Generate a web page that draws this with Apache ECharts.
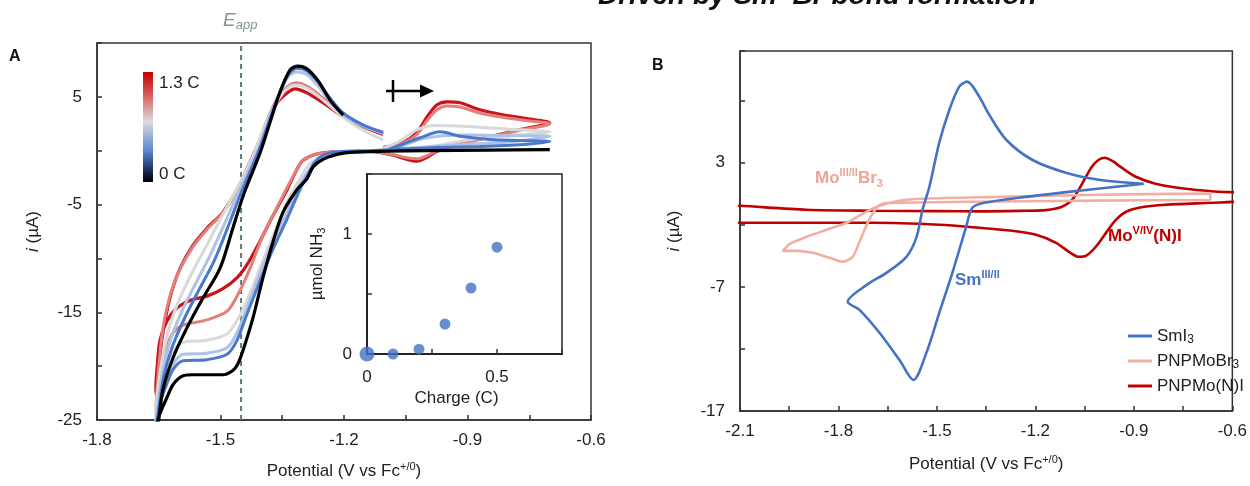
<!DOCTYPE html>
<html><head><meta charset="utf-8">
<script src="https://cdn.jsdelivr.net/npm/echarts@6/dist/echarts.min.js"></script>
<style>html,body{margin:0;padding:0;background:#fff}#c{width:1250px;height:486px}</style>
</head><body><div id="c"></div>
<script>
// ---------- Panel A: CV traces [potential V, current µA] ----------
const cvA_0C = [[-0.70,0.10],[-0.85,0.05],[-1.00,0.00],[-1.10,-0.05],[-1.185,-0.15],[-1.217,-0.34],[-1.251,-0.80],[-1.275,-1.50],[-1.290,-2.60],[-1.314,-3.60],[-1.348,-5.70],[-1.372,-8.40],[-1.397,-11.80],[-1.421,-15.50],[-1.445,-18.50],[-1.458,-19.80],[-1.470,-20.40],[-1.494,-20.80],[-1.533,-20.80],[-1.567,-20.80],[-1.591,-20.90],[-1.615,-21.70],[-1.630,-22.90],[-1.647,-24.40],[-1.656,-25.60],[-1.660,-26.50],
  [-1.652,-25.50],[-1.640,-22.20],[-1.615,-19.20],[-1.581,-16.40],[-1.543,-13.70],[-1.501,-10.90],[-1.470,-7.20],[-1.445,-4.20],[-1.404,-0.20],[-1.380,2.60],[-1.356,5.40],[-1.331,7.50],[-1.312,7.85],[-1.290,7.60],[-1.263,6.50],[-1.234,4.70],[-1.202,3.30]];
const cvA_blue = [[-1.105,-0.10],[-1.057,0.60],[-1.015,1.20],[-0.967,1.75],[-0.918,1.35],[-0.845,1.05],[-0.773,0.95],[-0.700,0.85],
  [-0.773,0.55],[-0.870,0.40],[-0.970,0.30],[-1.060,0.15],[-1.137,0.00],[-1.217,-0.10],[-1.250,-0.40],[-1.272,-1.10],[-1.290,-2.40],[-1.307,-3.60],[-1.338,-6.30],[-1.372,-9.10],[-1.404,-12.10],[-1.436,-15.20],[-1.460,-17.60],[-1.484,-18.90],[-1.533,-19.40],[-1.591,-19.50],[-1.615,-20.30],[-1.630,-21.60],[-1.645,-23.20],[-1.655,-25.20],[-1.659,-26.20],
  [-1.650,-24.00],[-1.638,-21.00],[-1.618,-18.30],[-1.588,-15.60],[-1.552,-12.90],[-1.515,-10.20],[-1.480,-6.90],[-1.450,-3.90],[-1.408,-0.10],[-1.383,2.60],[-1.358,5.20],[-1.333,7.20],[-1.313,7.65],[-1.290,7.40],[-1.263,6.40],[-1.234,4.90],[-1.202,3.50],[-1.154,2.40],[-1.105,1.70]];
const cvA_lightBlue = [[-1.105,0.00],[-1.057,0.50],[-1.010,1.10],[-0.960,1.40],[-0.900,1.45],[-0.800,1.40],[-0.700,1.35],
  [-0.800,0.80],[-0.900,0.60],[-1.000,0.35],[-1.080,0.15],[-1.137,0.00],[-1.217,-0.10],[-1.252,-0.50],[-1.278,-1.50],[-1.307,-3.10],[-1.338,-5.70],[-1.372,-8.40],[-1.404,-11.40],[-1.436,-14.60],[-1.460,-16.90],[-1.484,-18.30],[-1.533,-18.80],[-1.591,-18.90],[-1.615,-19.80],[-1.632,-21.20],[-1.648,-23.20],[-1.656,-24.80],[-1.659,-25.40],
  [-1.651,-23.20],[-1.640,-20.50],[-1.622,-17.60],[-1.595,-15.00],[-1.560,-12.30],[-1.525,-9.70],[-1.488,-6.60],[-1.455,-3.70],[-1.410,0.00],[-1.385,2.60],[-1.360,5.00],[-1.335,6.90],[-1.314,7.30],[-1.290,7.05],[-1.263,6.00],[-1.234,4.60],[-1.202,3.30],[-1.154,2.30],[-1.105,1.60]];
const cvA_grey = [[-1.105,0.20],[-1.060,1.00],[-1.020,2.00],[-0.980,2.35],[-0.900,2.25],[-0.800,2.00],[-0.700,1.75],
  [-0.800,1.40],[-0.900,1.00],[-0.970,0.50],[-1.030,0.20],[-1.090,0.05],[-1.137,0.00],[-1.217,-0.10],[-1.255,-0.50],[-1.285,-1.30],[-1.307,-2.60],[-1.331,-4.20],[-1.363,-7.05],[-1.397,-10.20],[-1.428,-13.20],[-1.453,-15.30],[-1.484,-17.00],[-1.533,-17.60],[-1.591,-17.80],[-1.615,-18.60],[-1.632,-20.00],[-1.648,-22.00],[-1.656,-24.00],[-1.658,-24.60],
  [-1.652,-22.00],[-1.642,-19.50],[-1.626,-16.60],[-1.602,-14.00],[-1.570,-11.40],[-1.535,-8.90],[-1.498,-6.20],[-1.460,-3.50],[-1.422,-0.60],[-1.393,2.20],[-1.365,4.40],[-1.340,5.70],[-1.318,6.10],[-1.290,5.80],[-1.251,4.70],[-1.202,3.10],[-1.154,1.90],[-1.105,1.00]];
const cvA_lightRed = [[-1.105,0.30],[-1.057,0.70],[-1.023,1.50],[-0.998,2.80],[-0.974,3.80],[-0.950,4.15],[-0.918,4.05],[-0.870,3.50],[-0.814,3.10],[-0.756,2.80],[-0.700,2.50],
  [-0.773,1.90],[-0.853,1.20],[-0.926,0.55],[-0.974,0.00],[-0.998,-0.45],[-1.023,-0.75],[-1.047,-0.65],[-1.088,-0.30],[-1.137,-0.05],[-1.217,-0.10],[-1.266,-0.30],[-1.300,-0.90],[-1.324,-2.40],[-1.356,-4.75],[-1.397,-7.90],[-1.428,-10.90],[-1.453,-13.00],[-1.484,-14.90],[-1.533,-15.70],[-1.591,-16.20],[-1.615,-16.90],[-1.632,-18.30],[-1.646,-20.30],[-1.654,-22.50],[-1.657,-23.80],
  [-1.650,-20.00],[-1.640,-16.50],[-1.625,-13.80],[-1.602,-11.30],[-1.570,-9.10],[-1.535,-7.40],[-1.495,-5.80],[-1.458,-3.60],[-1.434,-1.60],[-1.409,0.60],[-1.385,3.00],[-1.360,5.00],[-1.336,6.00],[-1.317,6.30],[-1.290,6.00],[-1.251,4.90],[-1.202,3.40],[-1.154,2.30],[-1.105,1.70]];
const cvA_red = [[-1.105,0.30],[-1.057,0.77],[-1.023,1.69],[-0.998,3.16],[-0.974,4.26],[-0.950,4.54],[-0.918,4.45],[-0.870,3.80],[-0.814,3.34],[-0.756,2.98],[-0.700,2.60],
  [-0.773,1.96],[-0.853,1.23],[-0.926,0.58],[-0.974,-0.06],[-0.998,-0.61],[-1.023,-0.98],[-1.047,-0.80],[-1.088,-0.34],[-1.137,-0.06],[-1.217,-0.10],[-1.266,-0.30],[-1.300,-0.90],[-1.314,-1.70],[-1.338,-3.60],[-1.372,-6.00],[-1.404,-8.40],[-1.436,-10.60],[-1.460,-11.80],[-1.494,-12.80],[-1.533,-13.50],[-1.574,-13.90],[-1.606,-14.60],[-1.630,-15.80],[-1.647,-17.60],[-1.654,-20.10],[-1.657,-22.00],[-1.655,-22.80],
  [-1.647,-18.90],[-1.635,-15.80],[-1.618,-13.00],[-1.598,-10.90],[-1.567,-8.80],[-1.533,-7.20],[-1.494,-5.70],[-1.460,-3.60],[-1.436,-1.70],[-1.411,0.40],[-1.387,2.60],[-1.363,4.45],[-1.338,5.37],[-1.319,5.74],[-1.290,5.37],[-1.251,4.45],[-1.202,3.16],[-1.154,2.24],[-1.105,1.50]];
const E_APP = -1.45;

// ---------- Inset: NH3 vs charge ----------
const insetCharge = [0, 0.1, 0.2, 0.3, 0.4, 0.5];
const insetNH3 = [0, 0, 0.04, 0.25, 0.55, 0.89];

// ---------- Panel B: CV traces ----------
const cvB_SmI3 = [[-0.870,1.31],[-1.068,0.74],[-1.250,0.18],[-1.356,-0.23],[-1.392,-0.63],[-1.411,-2.16],[-1.453,-5.87],[-1.493,-9.10],[-1.532,-12.30],[-1.572,-14.50],[-1.614,-12.90],[-1.675,-10.70],[-1.736,-8.85],[-1.772,-8.20],[-1.714,-6.84],[-1.654,-5.87],[-1.593,-4.58],[-1.562,-2.97],[-1.544,-0.79],[-1.523,1.06],[-1.493,4.61],[-1.462,7.27],[-1.432,9.13],[-1.408,9.53],[-1.371,8.32],[-1.341,6.87],[-1.289,4.85],[-1.210,3.24],[-1.107,2.19],[-1.007,1.63],[-0.870,1.31]];
const cvB_MoBr3 = [[-0.667,0.00],[-1.007,-0.05],[-1.310,-0.12],[-1.614,-0.22],[-1.654,-0.25],[-1.684,-0.63],[-1.711,-1.84],[-1.736,-3.37],[-1.757,-4.58],[-1.787,-4.98],[-1.827,-4.66],[-1.878,-4.26],[-1.927,-4.10],[-1.969,-4.10],[-1.948,-3.53],[-1.897,-2.97],[-1.836,-2.40],[-1.775,-1.84],[-1.726,-1.11],[-1.675,-0.47],[-1.614,-0.06],[-1.544,0.10],[-1.310,0.25],[-1.007,0.42],[-0.667,0.52],[-0.667,0.00]];
const cvB_MoNI = [[-2.20,-0.35],[-2.10,-0.47],[-1.897,-0.79],[-1.696,-0.87],[-1.500,-0.90],[-1.371,-0.92],[-1.250,-0.88],[-1.168,-0.82],[-1.119,-0.55],[-1.089,0.00],[-1.068,0.82],[-1.046,1.87],[-1.028,2.68],[-1.007,3.24],[-0.989,3.40],[-0.967,3.16],[-0.937,2.60],[-0.894,1.87],[-0.834,1.31],[-0.743,0.90],[-0.664,0.70],[-0.600,0.62],[-0.55,0.58],
  [-0.55,-0.12],[-0.600,-0.15],[-0.664,-0.23],[-0.803,-0.39],[-0.885,-0.63],[-0.924,-0.95],[-0.955,-1.60],[-0.985,-2.65],[-1.016,-3.77],[-1.046,-4.50],[-1.068,-4.58],[-1.098,-4.18],[-1.137,-3.45],[-1.198,-2.81],[-1.271,-2.48],[-1.371,-2.24],[-1.493,-2.00],[-1.696,-1.84],[-1.897,-1.84],[-2.10,-1.84],[-2.20,-1.84]];

// ---------- tick labels ----------
const tickA_x = [-1.8, -1.5, -1.2, -0.9, -0.6];
const tickA_y = [-25, -15, -5, 5];
const tickB_x = [-2.1, -1.8, -1.5, -1.2, -0.9, -0.6];
const tickB_y = [-17, -7, 3];
const tickIn_x = [0, 0.5];
const tickIn_y = [0, 1];

const FONT = '"Liberation Sans", Arial, sans-serif';
const AX = '#333';
function fmt(list, dec) { return v => list.some(t => Math.abs(t - v) < 1e-6) ? (dec ? v.toFixed(dec) : String(Math.round(v))) : ''; }
function fmtIn(list) { return v => list.some(t => Math.abs(t - v) < 1e-6) ? String(v) : ''; }
function axisBase(extra) {
  return Object.assign({
    type: 'value', splitLine: { show: false },
    axisLine: { show: true, onZero: false, lineStyle: { color: AX, width: 1.5 } },
    axisTick: { show: true, inside: true, length: 5, lineStyle: { color: AX, width: 1.5 } },
    minorTick: { show: false },
    axisLabel: { fontSize: 17, color: '#222', fontFamily: FONT },
    nameTextStyle: { fontSize: 17, color: '#222', fontFamily: FONT }
  }, extra);
}
const supRich = { sup: { fontSize: 11, verticalAlign: 'top', lineHeight: 10, color: '#222', fontFamily: FONT } };
const potName = 'Potential (V vs Fc{sup|+/0})';

const chart = echarts.init(document.getElementById('c'), null, { renderer: 'canvas' });

function cvLine(name, data, color, width) {
  return { name, type: 'line', xAxisIndex: 0, yAxisIndex: 0, data, symbol: 'none', showSymbol: false,
    smooth: 0.3, clip: true, silent: true, lineStyle: { color, width: width || 3 } };
}
function cvLineB(name, data, color) {
  return { name, type: 'line', xAxisIndex: 1, yAxisIndex: 1, data, symbol: 'none', showSymbol: false,
    smooth: 0.3, clip: true, silent: true, lineStyle: { color, width: 2.6 }, itemStyle: { color } };
}

const bold = (fill, size) => ({ fontSize: size || 17, fontWeight: 'bold', fontFamily: FONT, fill, lineHeight: 22 });
const supS = (fill) => ({ fontSize: 11, fontWeight: 'bold', fontFamily: FONT, fill, lineHeight: 10, verticalAlign: 'top' });
const subS = (fill) => ({ fontSize: 11, fontWeight: 'bold', fontFamily: FONT, fill, lineHeight: 10, verticalAlign: 'bottom' });

const option = {
  backgroundColor: '#fff',
  animation: false,
  grid: [
    { left: 97, top: 43, width: 494, height: 380, show: true, borderColor: AX, borderWidth: 1.5, backgroundColor: 'transparent' },
    { left: 740, top: 51, width: 494, height: 360, show: true, borderColor: AX, borderWidth: 1.5, backgroundColor: 'transparent' },
    { left: 367, top: 174, width: 195, height: 180, show: true, borderColor: '#222', borderWidth: 1.5, backgroundColor: '#fff', z: 3 }
  ],
  xAxis: [
    axisBase({ gridIndex: 0, min: -1.8, max: -0.6, interval: 0.15, axisLabel: { fontSize: 17, color: '#222', fontFamily: FONT, margin: 12, formatter: fmt(tickA_x, 1) },
      name: potName, nameLocation: 'middle', nameGap: 41, nameTextStyle: { fontSize: 17, color: '#222', fontFamily: FONT, lineHeight: 20, rich: supRich } }),
    axisBase({ gridIndex: 1, min: -2.1, max: -0.6, interval: 0.15, axisLabel: { fontSize: 17, color: '#222', fontFamily: FONT, margin: 12, formatter: fmt(tickB_x, 1) },
      name: potName, nameLocation: 'middle', nameGap: 43, nameTextStyle: { fontSize: 17, color: '#222', fontFamily: FONT, lineHeight: 20, rich: supRich } }),
    axisBase({ gridIndex: 2, min: 0, max: 0.75, interval: 0.25, axisLabel: { fontSize: 17, color: '#222', fontFamily: FONT, margin: 15, formatter: fmtIn(tickIn_x) },
      name: 'Charge (C)', nameLocation: 'middle', nameGap: 36, nameTextStyle: { fontSize: 17, color: '#222', fontFamily: FONT, padding: [0, 16, 0, 0] },
      axisLine: { show: true, onZero: false, lineStyle: { color: '#222', width: 2 } }, z: 4 })
  ],
  yAxis: [
    axisBase({ gridIndex: 0, min: -25, max: 10, interval: 5, axisLabel: { fontSize: 17, color: '#222', fontFamily: FONT, margin: 15, formatter: fmt(tickA_y, 0) },
      name: '{it|i} (µA)', nameLocation: 'middle', nameRotate: 90, nameGap: 55,
      nameTextStyle: { fontSize: 17, color: '#222', fontFamily: FONT, rich: { it: { fontStyle: 'italic', fontSize: 17, fontFamily: FONT, color: '#222' } } } }),
    axisBase({ gridIndex: 1, min: -17, max: 12, interval: 5, axisLabel: { fontSize: 17, color: '#222', fontFamily: FONT, margin: 15, formatter: fmt(tickB_y, 0) },
      name: '{it|i} (µA)', nameLocation: 'middle', nameRotate: 90, nameGap: 57,
      nameTextStyle: { fontSize: 17, color: '#222', fontFamily: FONT, rich: { it: { fontStyle: 'italic', fontSize: 17, fontFamily: FONT, color: '#222' } } } }),
    axisBase({ gridIndex: 2, min: 0, max: 1.5, interval: 0.5, axisLabel: { fontSize: 17, color: '#222', fontFamily: FONT, margin: 15, formatter: fmtIn(tickIn_y) },
      name: 'µmol NH{sub|3}', nameLocation: 'middle', nameRotate: 90, nameGap: 40,
      nameTextStyle: { fontSize: 17, color: '#222', fontFamily: FONT, lineHeight: 20, rich: { sub: { fontSize: 11, verticalAlign: 'bottom', lineHeight: 10, color: '#222', fontFamily: FONT } } },
      axisLine: { show: true, onZero: false, lineStyle: { color: '#222', width: 2 } }, z: 4 })
  ],
  legend: {
    data: ['SmI3', 'PNPMoBr3', 'PNPMo(N)I'],
    orient: 'vertical', left: 1123, top: 321, itemWidth: 24, itemHeight: 3, itemGap: 5,
    icon: 'rect',
    textStyle: { fontSize: 17, color: '#222', fontFamily: FONT, lineHeight: 20,
      rich: { sub: { fontSize: 12, verticalAlign: 'bottom', lineHeight: 11, color: '#222', fontFamily: FONT } } },
    formatter: n => n === 'SmI3' ? 'SmI{sub|3}' : (n === 'PNPMoBr3' ? 'PNPMoBr{sub|3}' : n)
  },
  series: [
    cvLine('1.3 C', cvA_red, '#c8141c', 3.2),
    cvLine('1.0 C', cvA_lightRed, '#e2807c', 3),
    cvLine('0.7 C', cvA_grey, '#d9d9d9', 3),
    cvLine('0.4 C', cvA_lightBlue, '#aec2e6', 3),
    cvLine('0.2 C', cvA_blue, '#4a78cc', 3),
    cvLine('0 C', cvA_0C, '#000000', 3.2),
    { name: 'Eapp', type: 'line', xAxisIndex: 0, yAxisIndex: 0, data: [[E_APP, -25], [E_APP, 9.8]], symbol: 'none', silent: true,
      lineStyle: { color: '#5a7c76', width: 2, type: [5, 4] }, z: 1 },
    { name: 'NH3', type: 'scatter', xAxisIndex: 2, yAxisIndex: 2, data: insetCharge.map((c, i) => [c, insetNH3[i]]),
      symbolSize: (v, p) => p.dataIndex === 0 ? 15 : 11, itemStyle: { color: '#4472c4' }, silent: true, z: 5, clip: false },
    cvLineB('PNPMo(N)I', cvB_MoNI, '#c00000'),
    cvLineB('PNPMoBr3', cvB_MoBr3, '#f2aea3'),
    cvLineB('SmI3', cvB_SmI3, '#4472c4')
  ],
  graphic: { elements: [
    { type: 'text', x: 598, y: 10, style: { text: 'Driven by Sm–Br bond formation', font: 'italic bold 28px "Liberation Sans", Arial, sans-serif', fill: '#111', verticalAlign: 'bottom', align: 'left' } },
    { type: 'text', x: 9, y: 57, style: { text: 'A', font: 'bold 16px "Liberation Sans", Arial, sans-serif', fill: '#111', verticalAlign: 'middle' } },
    { type: 'text', x: 652, y: 66, style: { text: 'B', font: 'bold 16px "Liberation Sans", Arial, sans-serif', fill: '#111', verticalAlign: 'middle' } },
    { type: 'text', x: 223, y: 21, style: { text: '{e|E}{s|app}', verticalAlign: 'middle',
      rich: { e: { fontSize: 19, fontStyle: 'italic', fontFamily: FONT, fill: '#7a9893', lineHeight: 22 },
              s: { fontSize: 13, fontStyle: 'italic', fontFamily: FONT, fill: '#7a9893', lineHeight: 12, verticalAlign: 'bottom' } } } },
    { type: 'rect', shape: { x: 143, y: 72, width: 10, height: 110 }, style: { fill: new echarts.graphic.LinearGradient(0, 0, 0, 1, [
      { offset: 0, color: '#c00000' }, { offset: 0.2, color: '#d85858' }, { offset: 0.45, color: '#dcdcdc' }, { offset: 0.72, color: '#5a84d0' }, { offset: 0.88, color: '#1d3566' }, { offset: 1, color: '#000000' }]) } },
    { type: 'text', x: 159, y: 83, style: { text: '1.3 C', font: '17px "Liberation Sans", Arial, sans-serif', fill: '#222', verticalAlign: 'middle' } },
    { type: 'text', x: 159, y: 174, style: { text: '0 C', font: '17px "Liberation Sans", Arial, sans-serif', fill: '#222', verticalAlign: 'middle' } },
    { type: 'line', shape: { x1: 393, y1: 80, x2: 393, y2: 102 }, style: { stroke: '#000', lineWidth: 2.5 } },
    { type: 'line', shape: { x1: 386, y1: 91, x2: 423, y2: 91 }, style: { stroke: '#000', lineWidth: 2.5 } },
    { type: 'polygon', shape: { points: [[420, 84.5], [434, 91], [420, 97.5]] }, style: { fill: '#000' } },
    { type: 'text', x: 815, y: 178, style: { text: '{b|Mo}{p|III/II}{b|Br}{s|3}', verticalAlign: 'middle', rich: { b: bold('#eda496'), p: supS('#eda496'), s: subS('#eda496') } } },
    { type: 'text', x: 955, y: 280, style: { text: '{b|Sm}{p|III/II}', verticalAlign: 'middle', rich: { b: bold('#4472c4'), p: supS('#4472c4') } } },
    { type: 'text', x: 1108, y: 236, style: { text: '{b|Mo}{p|V/IV}{b|(N)I}', verticalAlign: 'middle', rich: { b: bold('#c00000'), p: supS('#c00000') } } }
  ] }
};
chart.setOption(option);
</script></body></html>
